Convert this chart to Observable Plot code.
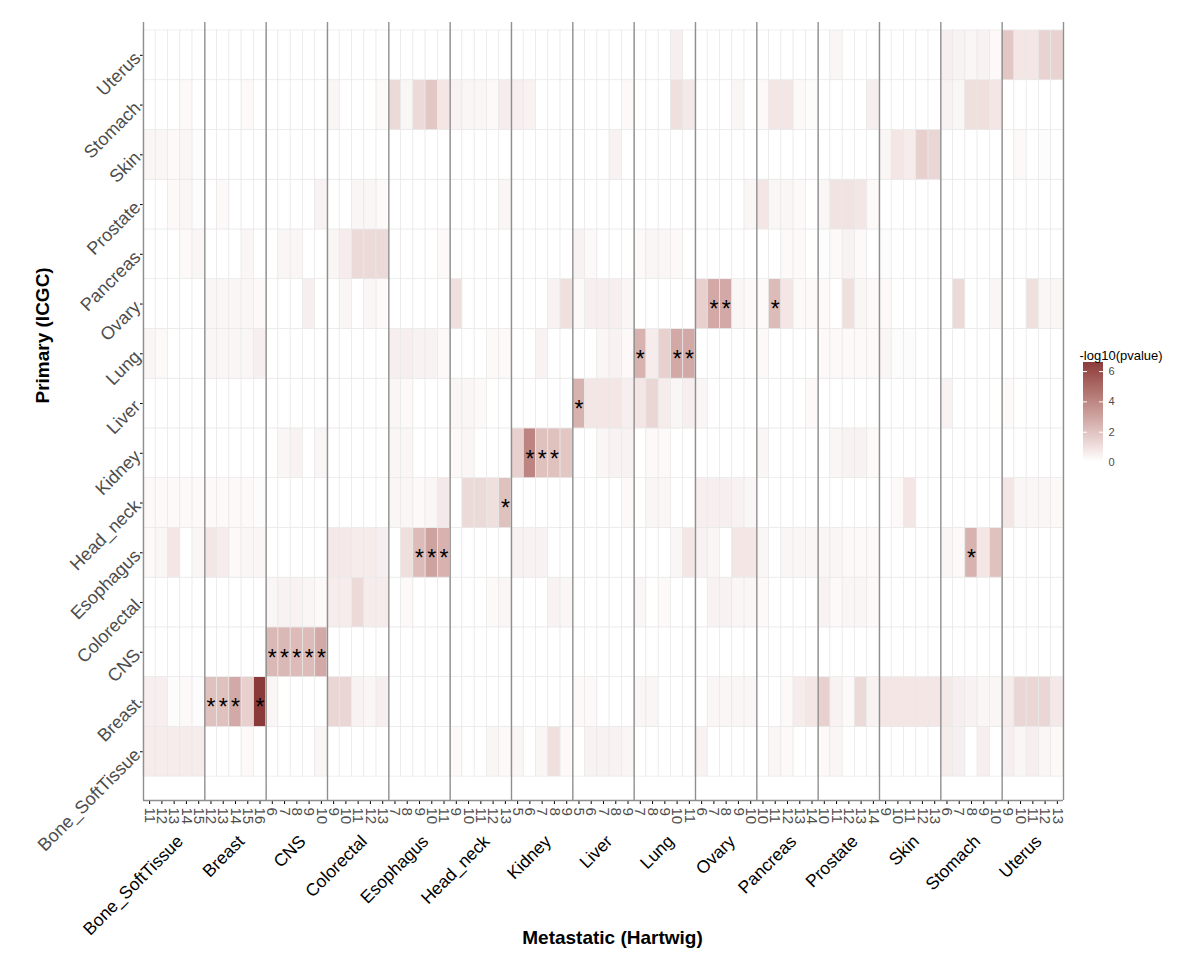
<!DOCTYPE html>
<html><head><meta charset="utf-8">
<script src="https://cdn.jsdelivr.net/npm/d3@7"></script>
<script src="https://cdn.jsdelivr.net/npm/@observablehq/plot@0.6"></script>
<style>
body{margin:0;background:#fff;font-family:"Liberation Sans",Arial,sans-serif}
#chart{position:relative;width:1200px;height:959px}
#legend{position:absolute;left:1075px;top:330px}
#main{position:absolute;left:0;top:0}
</style></head><body><div id="chart"><div id="main"></div><div id="legend"></div></div>
<script>
// Metastatic groups (x facets) and their subcluster tick labels
const groups = ["Bone_SoftTissue","Breast","CNS","Colorectal","Esophagus","Head_neck","Kidney","Liver","Lung","Ovary","Pancreas","Prostate","Skin","Stomach","Uterus"];
const subclusters = [
  [11,12,13,14,15],[12,13,14,15,16],[6,7,8,9,10],[9,10,11,12,13],[7,8,9,10,11],
  [9,10,11,12,13],[5,6,7,8,9],[5,6,7,8,9],[7,8,9,10,11],[6,7,8,9,10],
  [10,11,12,13,14],[10,11,12,13,14],[9,10,11,12,13],[6,7,8,9,10],[9,10,11,12,13]
];
// Primary (ICGC) rows, bottom to top
const primaries = ["Bone_SoftTissue","Breast","CNS","Colorectal","Esophagus","Head_neck","Kidney","Liver","Lung","Ovary","Pancreas","Prostate","Skin","Stomach","Uterus"];

// -log10(pvalue), 5 values per metastatic group, groups in the order above
const v_Bone_SoftTissue = [0.6,0.6,0.6,0.6,0.6, 0,0,0,0.2,0, 0,0,0,0,0.3, 0,0,0,0,0, 0,0,0,0,0, 0.2,0,0,0.3,0.2, 0.3,0,0.3,1.0,0.2, 0,0.4,0.4,0.4,0.3, 0,0,0,0,0, 0.4,0,0,0,0, 0,0.3,0.2,0,0, 0.2,0.3,0,0,0, 0,0,0,0,0, 0.6,0.5,0,0.5,0, 0.5,0.3,0.5,0.3,0.2];
const v_Breast = [0.5,0.5,0.1,0.2,0.1, 2.0,2.0,2.8,1.5,6.6, 0.3,0,0,0,0, 1.3,1.3,0.4,0.3,0.5, 0,0,0,0,0, 0,0,0,0,0, 0,0,0,0,0, 0.2,0.2,0,0,0, 0.3,0.3,0,0,0, 0,0.3,0.3,0.3,0.3, 0,0,0.2,0.6,0.8, 1.5,0.4,0.2,1.2,0.4, 0.8,0.8,0.8,0.8,0.8, 0.7,0.5,0.4,0.3,0.3, 0.6,1.3,1.3,1.3,0.7];
const v_CNS = [0,0,0,0,0, 0,0,0,0,0, 2.3,2.3,2.2,2.2,2.8, 0,0,0,0,0, 0,0,0,0,0, 0,0,0,0,0, 0,0,0,0,0, 0,0,0,0,0, 0,0,0,0,0, 0,0,0,0,0, 0,0,0,0,0, 0,0,0,0,0, 0,0,0,0,0, 0,0,0,0,0, 0,0,0,0,0];
const v_Colorectal = [0,0,0,0,0, 0,0,0,0,0, 0.3,0.4,0.4,0.3,0.2, 0.6,0.6,1.2,0.6,0.6, 0,0.2,0,0,0, 0,0,0,0.2,0.3, 0,0,0,0.4,0.3, 0,0,0,0,0, 0.3,0,0.2,0,0, 0,0.4,0.4,0.3,0.3, 0.2,0,0,0,0, 0.4,0.2,0.3,0.3,0.2, 0,0,0,0,0, 0,0,0,0,0, 0,0,0,0,0];
const v_Esophagus = [0.2,0.3,0.8,0,0.3, 0.8,0.6,0.2,0.3,0.3, 0,0,0,0,0, 0.7,0.7,0.6,0.6,0.5, 0,1.0,2.2,3.0,2.5, 0,0,0,0,0, 0.4,0.4,0.4,0,0, 0,0,0,0,0, 0,0,0,0.3,0.8, 0.4,0.3,0,0.8,0.8, 0.3,0,0.3,0.3,0.3, 0.3,0.3,0.2,0.2,0.2, 0,0,0,0,0, 0.3,0.2,2.5,0.8,2.0, 0,0,0,0,0];
const v_Head_neck = [0.2,0.2,0.2,0.2,0.2, 0.2,0.2,0.2,0.2,0.1, 0,0,0,0,0, 0,0,0,0,0, 0.3,0.3,0.2,0.3,0.7, 0,1.2,1.2,1.0,2.0, 0,0,0,0,0, 0,0,0,0,0.2, 0,0.3,0.3,0,0, 0.5,0.5,0.5,0.4,0.3, 0,0,0,0,0, 0,0,0,0,0, 0,0.2,0.8,0,0, 0,0,0,0,0, 0.8,0.3,0.3,0.3,0.2];
const v_Kidney = [0,0,0,0,0, 0,0,0,0,0, 0,0.3,0.4,0,0.3, 0,0,0,0,0, 0.3,0.3,0,0,0, 0.2,0.3,0,0,0, 1.5,4.0,2.0,2.0,1.8, 0,0,0.3,0.4,0.4, 0,0.2,0.2,0,0, 0,0,0,0,0, 0.3,0,0,0,0, 0,0.3,0.4,0.4,0.2, 0,0,0,0,0, 0,0,0,0,0, 0,0,0,0,0];
const v_Liver = [0,0,0,0,0, 0,0,0,0,0, 0,0,0,0,0, 0,0,0,0,0, 0.3,0.2,0,0,0, 0.3,0.3,0.2,0,0, 0,0,0,0,0, 2.5,0.8,0.8,0.8,0.5, 0.8,1.3,0.6,0.3,0.5, 0.3,0,0,0,0, 0,0,0,0,0.2, 0,0,0,0,0, 0,0,0,0,0, 0.4,0,0,0,0, 0.2,0,0,0,0];
const v_Lung = [0.3,0.2,0,0,0, 0.3,0.3,0.3,0.3,0.5, 0,0,0,0,0, 0,0,0,0,0, 0.5,0.5,0.4,0.4,0.2, 0,0,0,0.2,0.2, 0,0,0.4,0,0, 0,0,0.3,0.4,0.2, 2.5,0.6,1.5,2.8,2.8, 0,0,0,0,0, 0.2,0,0,0,0, 0.2,0.2,0.2,0.2,0.2, 0.3,0.1,0.1,0,0, 0,0,0,0,0, 0,0,0,0,0];
const v_Ovary = [0,0,0,0,0, 0.3,0.3,0.3,0.3,0.2, 0,0,0,0.5,0, 0,0.3,0,0.3,0.2, 0,0,0,0,0, 1.0,0,0,0,0, 0,0,0,0.4,1.0, 0.2,0.5,0.5,0.5,0.3, 0,0,0,0,0, 1.5,2.8,2.8,0.3,0.2, 0.2,2.2,0.8,0.2,0.2, 0.2,0,1.0,0.3,0.2, 0.2,0,0,0,0, 0,1.2,0,0,0.3, 0,0,1.0,0.3,0.3];
const v_Pancreas = [0,0,0,0.2,0.3, 0,0,0,0.3,0, 0,0.3,0.3,0,0, 0.3,0.6,1.2,1.2,1.2, 0,0,0,0,0.2, 0,0,0,0,0, 0,0,0,0,0, 0.4,0.2,0,0,0, 0.2,0.3,0.3,0.2,0, 0,0,0,0,0, 0,0,0.2,0.2,0, 0.1,0.2,0.4,0.2,0, 0.1,0,0,0,0, 0,0,0,0,0, 0,0,0,0,0];
const v_Prostate = [0,0,0.2,0.3,0.1, 0,0.2,0,0,0, 0,0,0,0,0.4, 0,0,0.3,0.3,0.2, 0,0,0,0,0, 0,0,0,0,0.3, 0,0,0,0,0, 0,0,0,0,0, 0,0,0,0,0, 0,0,0,0,0.3, 0.8,0.3,0.3,0.2,0, 0.3,0.9,0.9,0.8,0.2, 0,0,0,0,0, 0,0,0,0,0, 0,0,0,0,0];
const v_Skin = [0.3,0.3,0.2,0.3,0.1, 0,0,0,0,0, 0,0,0,0,0, 0,0,0,0,0, 0,0,0,0,0, 0,0,0,0,0, 0,0,0,0,0, 0,0,0,0.4,0, 0,0,0,0,0, 0,0,0,0,0, 0,0,0,0,0, 0,0,0,0,0, 0.3,0.8,0.6,1.5,1.3, 0,0,0,0,0, 0,0.2,0,0.1,0];
const v_Stomach = [0,0,0,0.2,0, 0,0,0,0.2,0, 0,0,0,0,0, 0.3,0,0,0,0.2, 1.2,0.3,1.2,1.8,0.8, 0.4,0.3,0.3,0.2,0.6, 0.5,0.4,0,0,0, 0,0,0,0,0.2, 0,0,0,1.0,0.7, 0,0,0,0.3,0, 0.2,0.8,0.8,0.2,0.1, 0,0,0,0,0.5, 0,0,0,0,0, 0.4,0.3,1.0,1.0,0.8, 0,0,0,0,0];
const v_Uterus = [0,0,0,0,0, 0,0,0,0,0, 0,0,0,0,0, 0,0,0,0,0, 0,0,0,0,0, 0,0,0,0,0, 0,0,0,0,0, 0,0,0,0,0, 0,0,0,0.5,0, 0,0,0,0,0, 0,0,0,0,0, 0,0.3,0,0,0, 0,0,0,0,0, 0.5,0.4,0.3,0.4,0.2, 1.8,0.8,0.8,1.4,1.4];

// significant cells (asterisks)
const sigPrimary = ["Breast","Breast","Breast","Breast","CNS","CNS","CNS","CNS","CNS","Esophagus","Esophagus","Esophagus","Esophagus","Head_neck","Kidney","Kidney","Kidney","Liver","Lung","Lung","Lung","Ovary","Ovary","Ovary"];
const sigGroup   = ["Breast","Breast","Breast","Breast","CNS","CNS","CNS","CNS","CNS","Esophagus","Esophagus","Esophagus","Stomach","Head_neck","Kidney","Kidney","Kidney","Liver","Lung","Lung","Lung","Ovary","Ovary","Pancreas"];
const sigLabel   = [12,13,14,16, 6,7,8,9,10, 9,10,11, 8, 13, 6,7,8, 5, 7,10,11, 7,8, 11];

// legend ticks
const legendTicks = [0, 2, 4, 6];

const rowValues = [v_Bone_SoftTissue,v_Breast,v_CNS,v_Colorectal,v_Esophagus,v_Head_neck,v_Kidney,v_Liver,v_Lung,v_Ovary,v_Pancreas,v_Prostate,v_Skin,v_Stomach,v_Uterus];

// build tables
const columns = [];
groups.forEach((g, gi) => subclusters[gi].forEach((lab, k) => columns.push({group: g, gi, label: lab, col: gi * subclusters[0].length + k})));
const nCols = columns.length;
const colIndex = (g, lab) => columns.find(c => c.group === g && c.label === lab).col;
const cells = [];
primaries.forEach((p, r) => columns.forEach(c => cells.push({primary: p, row: r, col: c.col, value: rowValues[r][c.col]})));
const stars = sigPrimary.map((p, i) => ({row: primaries.indexOf(p), col: colIndex(sigGroup[i], sigLabel[i])}));
const rowsData = primaries.map((p, r) => ({name: p, row: r}));
const groupData = groups.map((g, gi) => ({name: g, mid: gi * 5 + 2.5}));
const boundaries = groups.map((g, gi) => gi * 5).concat([nCols]);

const yDomain = [-0.48, primaries.length + 0.16];
const maxVal = 6.6;
const colorOpts = {type: "linear", domain: [0, maxVal], range: ["#ffffff", "#8B3A3A"], interpolate: d3.interpolateLab};
const font = "'Liberation Sans', Arial, sans-serif";

const main = Plot.plot({
  width: 1200, height: 959,
  marginLeft: 143, marginRight: 137, marginTop: 22, marginBottom: 159,
  style: {fontFamily: font, background: "white"},
  x: {domain: [0, nCols], ticks: columns.map(c => c.col + 0.5), tickFormat: () => "", tickSize: 4, label: null},
  y: {domain: yDomain, ticks: rowsData.map(d => d.row + 0.5), tickFormat: () => "", tickSize: 3, label: null},
  color: colorOpts,
  marks: [
    Plot.rect(cells, {x1: "col", x2: d => d.col + 1, y1: "row", y2: d => d.row + 1, fill: "value", stroke: "#e8e8e8", strokeWidth: 0.7}),
    Plot.ruleX(boundaries, {stroke: "#8f8f8f", strokeWidth: 1.4}),
    Plot.ruleY([yDomain[0]], {stroke: "#8f8f8f", strokeWidth: 1.4}),
    Plot.text(stars, {x: d => d.col + 0.5, y: d => d.row + 0.5, text: () => "*", fontSize: 23, fill: "black", dy: 6, lineAnchor: "middle"}),
    Plot.text(columns, {x: d => d.col + 0.5, frameAnchor: "bottom", dy: 7, rotate: 90, textAnchor: "start", lineAnchor: "middle", text: d => String(d.label), fontSize: 15, fill: "#4d4d4d"}),
    Plot.text(rowsData, {y: d => d.row + 0.5, frameAnchor: "left", dx: -6, rotate: -45, textAnchor: "end", lineAnchor: "middle", text: "name", fontSize: 18, fill: "#4d4d4d"}),
    Plot.text(groupData, {x: "mid", frameAnchor: "bottom", dx: 6, dy: 38, rotate: -45, textAnchor: "end", lineAnchor: "middle", text: "name", fontSize: 17.5, fill: "black"}),
    Plot.text(["Metastatic (Hartwig)"], {frameAnchor: "bottom", dx: 9, dy: 137, text: d => d, fontSize: 19, fontWeight: "bold", fill: "black", lineAnchor: "middle"}),
    Plot.text(["Primary (ICGC)"], {frameAnchor: "left", dx: -101, dy: -8, rotate: -90, text: d => d, fontSize: 19, fontWeight: "bold", fill: "black"})
  ]
});
document.getElementById("main").appendChild(main);

// legend (vertical colour bar)
const legendSteps = d3.range(0, maxVal, 0.05);
const legend = Plot.plot({
  width: 110, height: 150,
  marginLeft: 8, marginRight: 82, marginTop: 32, marginBottom: 18,
  style: {fontFamily: font, fontSize: "11px", color: "#4d4d4d", background: "transparent"},
  x: {domain: [0, 1], axis: null},
  y: {domain: [0, maxVal], axis: "right", ticks: legendTicks, tickFormat: d3.format("d"), tickSize: 0, tickPadding: 5, label: null},
  color: colorOpts,
  marks: [
    Plot.rect(legendSteps, {x1: 0, x2: 1, y1: d => d, y2: d => Math.min(maxVal, d + 0.12), fill: d => d, shapeRendering: "crispEdges"}),
    Plot.tickY(legendTicks, {stroke: "white", strokeWidth: 1, insetRight: 16}),
    Plot.tickY(legendTicks, {stroke: "white", strokeWidth: 1, insetLeft: 16}),
    Plot.text(["-log10(pvalue)"], {frameAnchor: "top-left", dx: -4, dy: -12, textAnchor: "start", text: d => d, fontSize: 13, fill: "black"})
  ]
});
document.getElementById("legend").appendChild(legend);
</script>
</body></html>
